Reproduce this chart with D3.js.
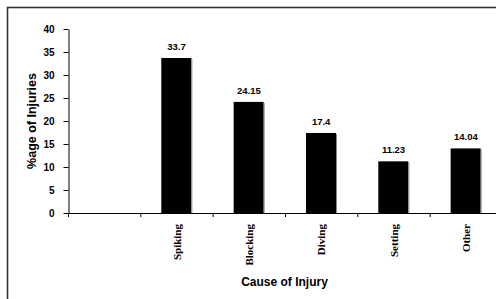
<!DOCTYPE html>
<html><head><meta charset="utf-8">
<script src="https://cdn.jsdelivr.net/npm/d3@7"></script>
<style>body{margin:0;background:#fff}svg{display:block}</style>
</head><body>
<svg id="c" width="496" height="299"></svg>
<script>
const categories = ["", "Spiking", "Blocking", "Diving", "Setting", "Other"];
const values = [null, 33.7, 24.15, 17.4, 11.23, 14.04];
const valueLabels = ["", "33.7", "24.15", "17.4", "11.23", "14.04"];
const yTicks = [0, 5, 10, 15, 20, 25, 30, 35, 40];
const xTitle = "Cause of Injury";
const yTitle = "%age of Injuries";

const svg = d3.select("#c");
// outer frame (extends past right/bottom edges as in reference)
svg.append("rect").attr("x", 7.5).attr("y", 7.5).attr("width", 520).attr("height", 320)
  .attr("fill", "none").attr("stroke", "#333").attr("stroke-width", 1.6);

const x0 = 68, x1 = 502, yTop = 29, yBot = 213;
const x = d3.scaleBand().domain(categories).range([x0, x1]).padding(0);
const y = d3.scaleLinear().domain([0, 40]).range([yBot, yTop]);
const bw = x.bandwidth();

// y axis
const yAxis = svg.append("g").attr("transform", `translate(${x0 + 0.5},0)`)
  .call(d3.axisLeft(y).tickValues(yTicks).tickSize(5).tickPadding(9).tickSizeOuter(0));
yAxis.select(".domain").attr("stroke", "#000");
yAxis.selectAll(".tick line").attr("stroke", "#000");
yAxis.selectAll("text").attr("font-family", "Arial, 'Liberation Sans', sans-serif")
  .attr("font-weight", "bold").attr("font-size", 10).attr("fill", "#000");

// bars
const data = categories.map((c, i) => ({c, v: values[i], l: valueLabels[i]})).filter(d => d.v != null);
svg.selectAll("rect.bar").data(data).enter().append("rect").attr("class", "bar")
  .attr("x", d => x(d.c) + bw * 0.29).attr("width", bw * 0.415)
  .attr("y", d => y(d.v)).attr("height", d => y(0) - y(d.v)).attr("fill", "#000");
svg.selectAll("rect.shadow").data(data).enter().append("rect").attr("class", "shadow")
  .attr("x", d => x(d.c) + bw * 0.29 + bw * 0.415).attr("width", 1)
  .attr("y", d => y(d.v) + 1).attr("height", d => y(0) - y(d.v) - 1).attr("fill", "#888");

// x axis line and boundary ticks
svg.append("line").attr("x1", x0).attr("x2", 520).attr("y1", yBot + 0.5).attr("y2", yBot + 0.5)
  .attr("stroke", "#000");
const bounds = categories.map(c => x(c)).concat([x1]);
svg.selectAll("line.xt").data(bounds).enter().append("line").attr("class", "xt")
  .attr("x1", d => d + 0.5).attr("x2", d => d + 0.5).attr("y1", yBot).attr("y2", yBot + 4).attr("stroke", "#000");

// value labels
svg.selectAll("text.val").data(data).enter().append("text").attr("class", "val")
  .attr("x", d => x(d.c) + bw / 2).attr("y", d => y(d.v) - 8)
  .attr("text-anchor", "middle").attr("font-family", "Arial, 'Liberation Sans', sans-serif")
  .attr("font-weight", "bold").attr("font-size", 9.5).text(d => d.l);

// category labels (rotated)
svg.selectAll("text.cat").data(data).enter().append("text").attr("class", "cat")
  .attr("transform", d => `translate(${x(d.c) + bw / 2 + 4},224) rotate(-90)`)
  .attr("text-anchor", "end").attr("font-family", "'Liberation Serif', 'Times New Roman', serif")
  .attr("font-weight", "bold").attr("font-size", 11).text(d => d.c);

// titles
svg.append("text").attr("x", 284.5).attr("y", 285.5).attr("text-anchor", "middle")
  .attr("font-family", "Arial, 'Liberation Sans', sans-serif").attr("font-weight", "bold")
  .attr("font-size", 12).text(xTitle);
svg.append("text").attr("transform", "translate(36,121) rotate(-90)").attr("text-anchor", "middle")
  .attr("font-family", "Arial, 'Liberation Sans', sans-serif").attr("font-weight", "bold")
  .attr("font-size", 12.5).text(yTitle);
</script>
</body></html>
